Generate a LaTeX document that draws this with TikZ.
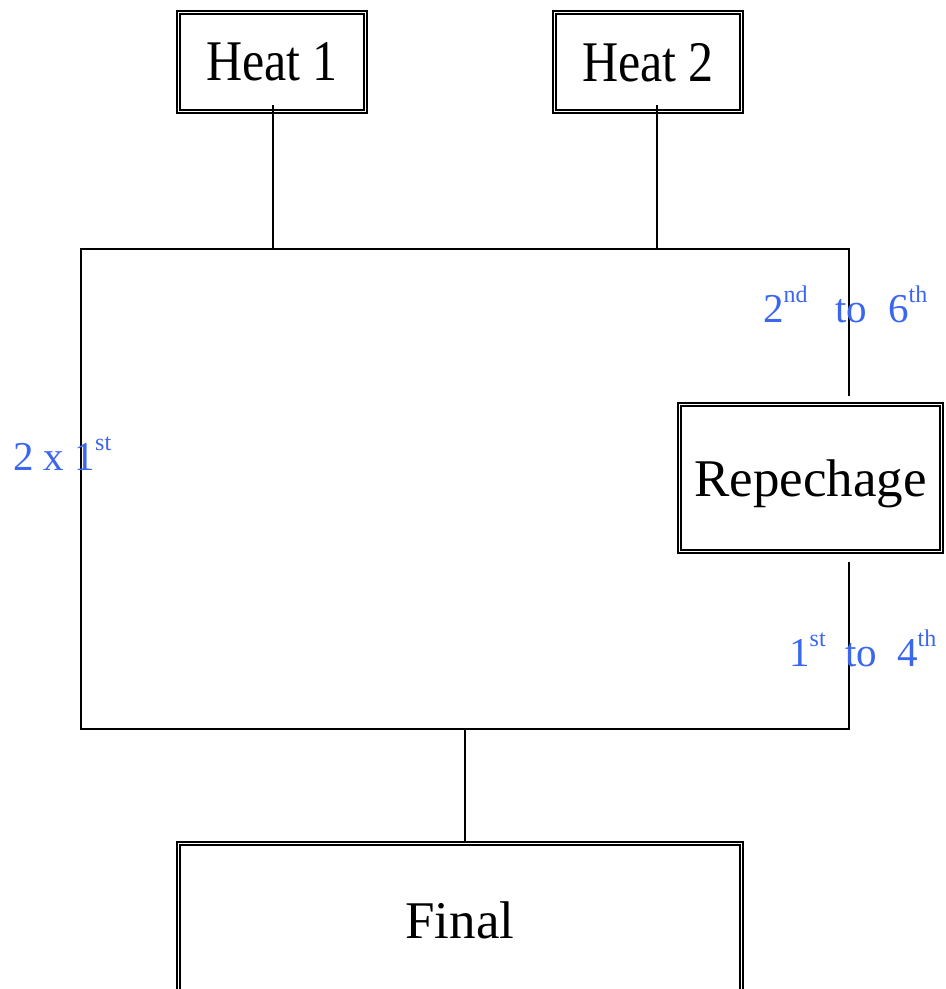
\documentclass[tikz,border=0pt]{standalone}
\usepackage{fontspec}
\setmainfont{Liberation Serif}
\definecolor{lblblue}{RGB}{59,103,240}
\newcommand{\ordsup}[1]{{\fontsize{24}{24}\selectfont\raisebox{20pt}{#1}}}
\begin{document}
\begin{tikzpicture}[x=1pt,y=-1pt,
  dbox/.style={draw=black,line width=2.6pt,inner sep=0pt,text depth=0pt,
    append after command={
      \pgfextra{\draw[line width=1.3pt]
        ([shift={(4.4pt,-4.4pt)}]\tikzlastnode.north west) rectangle
        ([shift={(-4.4pt,4.4pt)}]\tikzlastnode.south east);}}},
  wire/.style={line width=1.5pt,line cap=rect},
  lbl/.style={text=lblblue,anchor=base west,inner sep=0pt,font=\fontsize{41}{41}\selectfont},
  boxfont/.style={font=\fontsize{53}{53}\selectfont},
  heatfont/.style={font=\fontsize{50}{50}\selectfont}
]
\clip (0,0) rectangle (946,989);
\fill[white] (0,0) rectangle (946,989);

% boxes
\node[dbox,heatfont,minimum width=190pt,minimum height=102pt] (h1) at (272,62) {\scalebox{1}[1.15]{Heat 1}};
\node[dbox,heatfont,minimum width=190pt,minimum height=102pt] (h2) at (648,62) {\scalebox{1}[1.15]{Heat 2}};
\node[dbox,boxfont,text depth=-8pt,minimum width=265pt,minimum height=150pt] (rep) at (810.5,478) {Repechage};
\node[dbox,boxfont,minimum width=566pt,minimum height=156pt] (fin) at (460,920) {Final};

% frame corners
\coordinate (tl) at (81,249);
\coordinate (tr) at (849,249);
\coordinate (bl) at (81,729);
\coordinate (br) at (849,729);
\coordinate (r1) at (849,395);
\coordinate (r2) at (849,563);
\coordinate (fb) at (465,729);
\coordinate (h1a) at (273,106);
\coordinate (h2a) at (657,106);

% connectors
\draw[wire] (h1a) -- (h1a |- tl);
\draw[wire] (h2a) -- (h2a |- tl);
\draw[wire] (r1) -- (tr) -- (tl) -- (bl) -- (br) -- (r2);
\draw[wire] (fb) -- (fb |- fin.north);

% labels
\node[lbl] (l2nd) at (763,322) {2\ordsup{nd}};
\node[lbl] (lto1) at (835,322) {to};
\node[lbl] (l6th) at (888,322) {6\ordsup{th}};
\node[lbl] (l2x) at (13,470) {2 x 1\ordsup{st}};
\node[lbl] (l1st) at (789,666) {1\ordsup{st}};
\node[lbl] (lto2) at (845,666) {to};
\node[lbl] (l4th) at (897,666) {4\ordsup{th}};
\end{tikzpicture}
\end{document}
